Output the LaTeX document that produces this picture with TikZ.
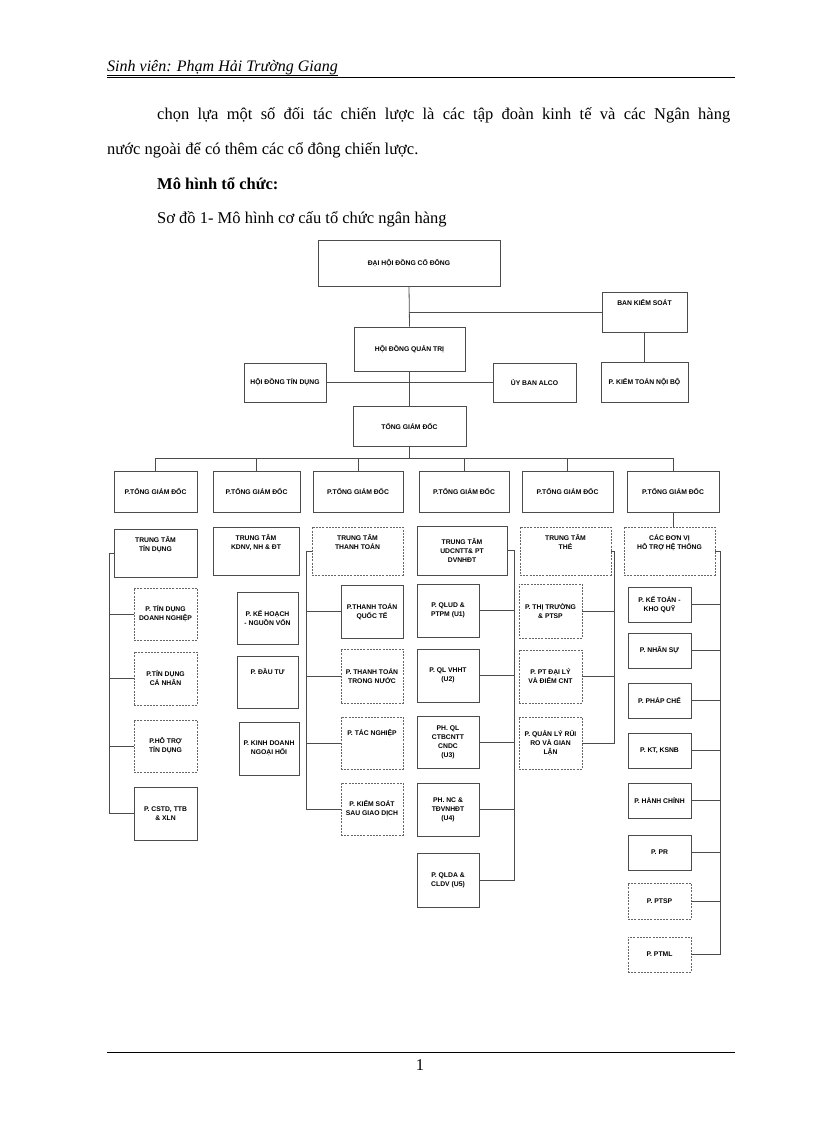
\documentclass[tikz,border=0pt]{standalone}
\usepackage{fontspec}
\setmainfont{Liberation Serif}
\newfontfamily\boxfont{Liberation Sans}
\begin{document}
\begin{tikzpicture}[x=1pt,y=-1pt,
  bxs/.style={draw=black!70,line width=0.8pt,fill=white,inner sep=1pt,align=center,font=\boxfont\bfseries\fontsize{6.8}{9}\selectfont},
  bxd/.style={bxs,dashed,dash pattern=on 2pt off 1.2pt,draw=black!60},
  ln/.style={draw=black!70,line width=0.8pt}]
\useasboundingbox (0,0) rectangle (816,1123);
\newcommand\bx[7]{\node[#6,minimum width={(#4-#2)*1pt},minimum height={(#5-#3)*1pt}] (#1) at ({(#2+#4)/2},{(#3+#5)/2}) {#7};}
% header / text
\node[anchor=base west,inner sep=0,font=\itshape\fontsize{16}{18}\selectfont] (hd) at (107,72) {Sinh viên: Phạm Hải Trường Giang\hspace{5pt}};
\draw[line width=0.7pt] (hd.south west) -- (hd.south east);
\draw[line width=0.8pt] (107,77) coordinate (hl) -- (735,77) coordinate (hr);
\node[anchor=base west,inner sep=0,font=\fontsize{16.5}{19}\selectfont] (t1) at (157,120) {\makebox[573pt][s]{chọn lựa một số đối tác chiến lược là các tập đoàn kinh tế và các Ngân hàng}};
\node[anchor=base west,inner sep=0,font=\fontsize{16.5}{19}\selectfont] (t2) at (107,155) {nước ngoài để có thêm các cổ đông chiến lược.};
\node[anchor=base west,inner sep=0,font=\bfseries\fontsize{16.5}{19}\selectfont] (t3) at (157,190) {Mô hình tổ chức:};
\node[anchor=base west,inner sep=0,font=\fontsize{16.5}{19}\selectfont] (t4) at (157,224) {Sơ đồ 1- Mô hình cơ cấu tổ chức ngân hàng};
\draw[line width=0.8pt] (107,1052) coordinate (fl) -- (735,1052) coordinate (fr);
\node[font=\fontsize{16.5}{19}\selectfont,inner sep=0] (pg) at (420,1065) {1};
% top
\bx{dh}{318}{240}{500}{286}{bxs}{ĐẠI HỘI ĐỒNG CỔ ĐÔNG}
\bx{bks}{602}{292}{687}{332}{bxs}{BAN KIỂM SOÁT\\[10pt]\ }
\bx{hdqt}{354}{327}{465}{371}{bxs}{HỘI ĐỒNG QUẢN TRỊ}
\bx{hdtd}{244}{363}{326}{402}{bxs}{HỘI ĐỒNG TÍN DỤNG}
\bx{alco}{493}{363}{576}{402}{bxs}{ỦY BAN ALCO}
\bx{ktnb}{601}{362}{688}{402}{bxs}{P. KIỂM TOÁN NỘI BỘ}
\bx{tgd}{353}{406}{466}{446}{bxs}{TỔNG GIÁM ĐỐC}
\draw[ln] (dh.south) -- (hdqt.north);
\draw[ln] (bks.west) -- (dh.south |- bks.west);
\draw[ln] (bks.south) -- (ktnb.north);
\draw[ln] (hdqt.south) -- (tgd.north);
\draw[ln] (hdtd.east) -- (alco.west);
\draw[ln] (tgd.south) -- ++(0,12) coordinate (bus);
\bx{p1}{114}{471}{197}{512}{bxs}{P.TỔNG GIÁM ĐỐC}
\bx{p2}{213}{471}{300}{512}{bxs}{P.TỔNG GIÁM ĐỐC}
\bx{p3}{313}{471}{403}{512}{bxs}{P.TỔNG GIÁM ĐỐC}
\bx{p4}{419}{471}{509}{512}{bxs}{P.TỔNG GIÁM ĐỐC}
\bx{p5}{522}{471}{613}{512}{bxs}{P.TỔNG GIÁM ĐỐC}
\bx{p6}{627}{471}{719}{512}{bxs}{P.TỔNG GIÁM ĐỐC}
\foreach \p in {p1,p2,p3,p4,p5,p6} \draw[ln] (bus) -| (\p.north);
% column 1
\bx{c1}{114}{529}{197}{577}{bxs}{TRUNG TÂM\\TÍN DỤNG\\[10pt]\ }
\bx{c1a}{134}{588}{197}{640}{bxd}{P. TÍN DỤNG\\DOANH NGHIỆP}
\bx{c1b}{134}{652}{197}{705}{bxd}{P.TÍN DỤNG\\CÁ NHÂN}
\bx{c1c}{134}{720}{197}{772}{bxd}{P.HỖ TRỢ\\TÍN DỤNG}
\bx{c1d}{134}{787}{197}{840}{bxs}{P. CSTD, TTB\\\& XLN}
\foreach \c in {c1a,c1b,c1c,c1d} \draw[ln] (c1.west) -- ++(-4,0) |- (\c.west);
% column 2
\bx{c2}{213}{527}{299}{575}{bxs}{TRUNG TÂM\\KDNV, NH \& ĐT\\[10pt]\ }
\bx{c2a}{237}{592}{298}{644}{bxs}{P. KẾ HOẠCH\\- NGUỒN VỐN}
\bx{c2b}{237}{656}{298}{708}{bxs}{P. ĐẦU TƯ\\[12pt]\ }
\bx{c2c}{239}{722}{299}{775}{bxs}{P. KINH DOANH\\NGOẠI HỐI}
% column 3
\bx{c3}{312}{527}{403}{575}{bxd}{TRUNG TÂM\\THANH TOÁN\\[10pt]\ }
\bx{c3a}{341}{585}{403}{638}{bxs}{P.THANH TOÁN\\QUỐC TẾ}
\bx{c3b}{341}{649}{403}{703}{bxd}{P. THANH TOÁN\\TRONG NƯỚC}
\bx{c3c}{341}{717}{403}{769}{bxd}{P. TÁC NGHIỆP\\[12pt]\ }
\bx{c3d}{341}{783}{403}{835}{bxd}{P. KIỂM SOÁT\\SAU GIAO DỊCH}
\foreach \c in {c3a,c3b,c3c,c3d} \draw[ln] (c3.west) -- ++(-5,0) |- (\c.west);
% column 4
\bx{c4}{417}{526}{507}{575}{bxs}{TRUNG TÂM\\UDCNTT\& PT\\DVNHĐT}
\bx{c4a}{417}{584}{479}{637}{bxs}{P. QLUD \&\\PTPM (U1)}
\bx{c4b}{417}{649}{479}{702}{bxs}{P. QL VHHT\\(U2)}
\bx{c4c}{417}{716}{479}{768}{bxs}{PH. QL\\CTBCNTT\\CNDC\\(U3)}
\bx{c4d}{417}{783}{479}{836}{bxs}{PH. NC \&\\TĐVNHĐT\\(U4)}
\bx{c4e}{417}{853}{479}{907}{bxs}{P. QLDA \&\\CLDV (U5)}
\foreach \c in {c4a,c4b,c4c,c4d,c4e} \draw[ln] (c4.east) -- ++(7,0) |- (\c.east);
% column 5
\bx{c5}{520}{527}{611}{575}{bxd}{TRUNG TÂM\\THẺ\\[10pt]\ }
\bx{c5a}{519}{584}{582}{638}{bxd}{P. THỊ TRƯỜNG\\\& PTSP}
\bx{c5b}{519}{650}{582}{703}{bxd}{P. PT ĐẠI LÝ\\VÀ ĐIỂM CNT}
\bx{c5c}{519}{717}{582}{769}{bxd}{P. QUẢN LÝ RỦI\\RO VÀ GIAN\\LẬN}
\foreach \c in {c5a,c5b,c5c} \draw[ln] (c5.east) -- ++(3,0) |- (\c.east);
% column 6
\draw[ln] (p6.south) -- (673,527);
\bx{c6}{624}{527}{715}{575}{bxd}{CÁC ĐƠN VỊ\\HỖ TRỢ HỆ THỐNG\\[10pt]\ }
\bx{c6a}{628}{587}{691}{622}{bxs}{P. KẾ TOÁN -\\KHO QUỸ}
\bx{c6b}{628}{633}{691}{668}{bxs}{P. NHÂN SỰ}
\bx{c6c}{628}{683}{691}{718}{bxs}{P. PHÁP CHẾ}
\bx{c6d}{628}{733}{691}{768}{bxs}{P. KT, KSNB}
\bx{c6e}{628}{783}{691}{818}{bxs}{P. HÀNH CHÍNH}
\bx{c6f}{628}{835}{691}{870}{bxs}{P. PR}
\bx{c6g}{628}{883}{691}{919}{bxd}{P. PTSP}
\bx{c6h}{628}{937}{691}{972}{bxd}{P. PTML}
\foreach \c in {c6a,c6b,c6c,c6d,c6e,c6f,c6g,c6h} \draw[ln] (c6.east) -- ++(5,0) |- (\c.east);
\end{tikzpicture}
\end{document}
